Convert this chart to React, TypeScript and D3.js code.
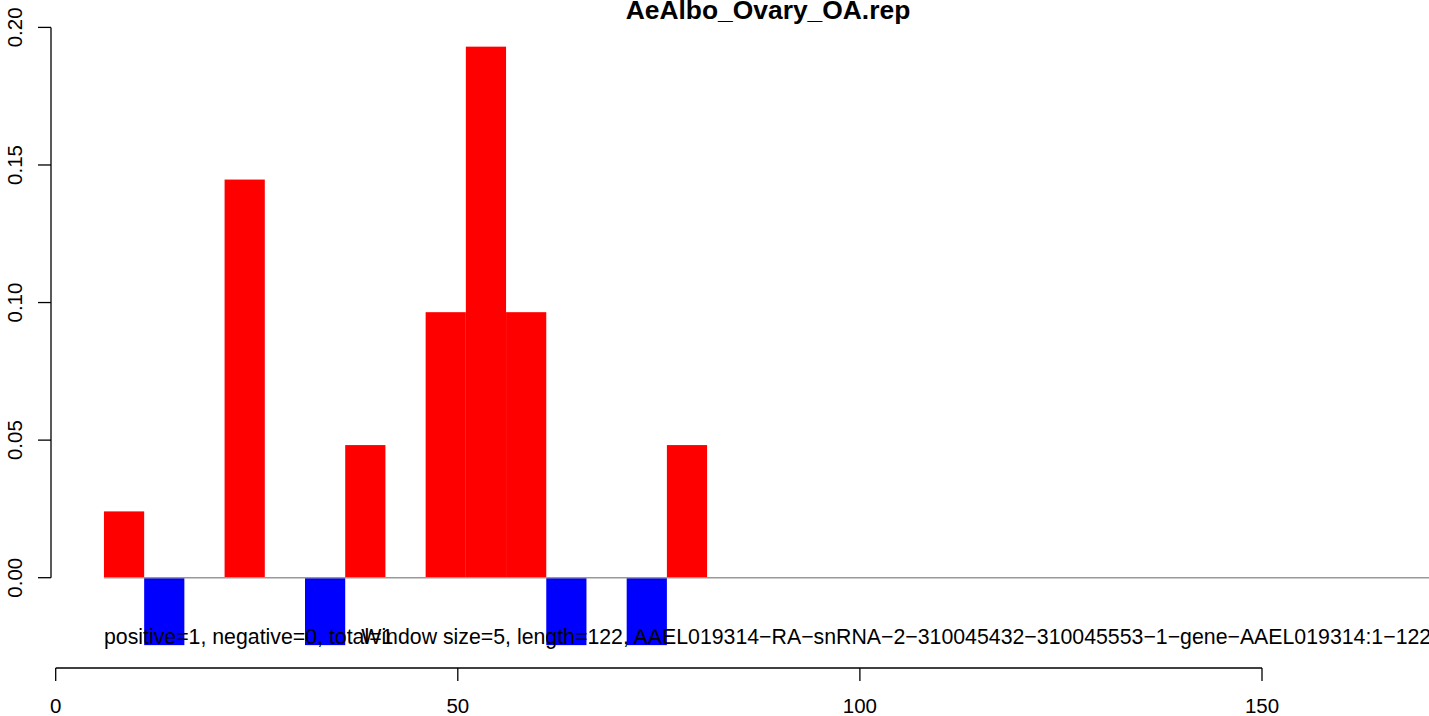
import React from "react";
import * as d3 from "d3";

const title = "AeAlbo_Ovary_OA.rep";
const windowSize = 5;
const redStarts = [6, 21, 36, 46, 51, 56, 76];
const redValues = [0.0241, 0.1447, 0.0482, 0.0965, 0.193, 0.0965, 0.0482];
const blueStarts = [11, 31, 61, 71];
const blueValues = [-0.0245, -0.0245, -0.0245, -0.0245];
const xTicks = [0, 50, 100, 150];
const yTicks = [0, 0.05, 0.1, 0.15, 0.2];
const yTickLabels = ["0.00", "0.05", "0.10", "0.15", "0.20"];
const note1 = "positive=1, negative=0, total=1";
const note2 =
  "Window size=5, length=122, AAEL019314\u2212RA\u2212snRNA\u22122\u2212310045432\u2212310045553\u22121\u2212gene\u2212AAEL019314:1\u2212122";

const W = 1429;
const H = 716;
const FONT = "'Liberation Sans', Arial, Helvetica, sans-serif";

export default function App() {
  const x = d3.scaleLinear().domain([0, 150]).range([55.7, 1262]);
  const y = d3.scaleLinear().domain([0, 0.2]).range([577.7, 27.4]);
  const axisY = 668;
  const yAxisX = 51;

  const bar = (s: number, v: number, color: string, key: string) => {
    const x0 = x(s);
    const x1 = x(s + windowSize);
    const y0 = y(Math.max(0, v));
    const y1 = y(Math.min(0, v));
    return <rect key={key} x={x0} y={y0} width={x1 - x0} height={y1 - y0} fill={color} />;
  };

  return (
    <svg
      width={W}
      height={H}
      style={{ position: "absolute", left: 0, top: 0, background: "#fff" }}
      fontFamily={FONT}
    >
      <rect x={0} y={0} width={W} height={H} fill="#fff" />
      {redStarts.map((s, i) => bar(s, redValues[i], "#ff0000", "r" + i))}
      {blueStarts.map((s, i) => bar(s, blueValues[i], "#0000ff", "b" + i))}
      <line x1={x(redStarts[0])} x2={W} y1={y(0)} y2={y(0)} stroke="#999" strokeWidth={1.5} />

      {/* y axis */}
      <line x1={yAxisX} x2={yAxisX} y1={y(0)} y2={y(0.2)} stroke="#000" strokeWidth={1.3} />
      {yTicks.map((t, i) => (
        <g key={"yt" + i}>
          <line x1={yAxisX - 13} x2={yAxisX} y1={y(t)} y2={y(t)} stroke="#000" strokeWidth={1.3} />
          <text
            transform={`translate(22,${y(t)}) rotate(-90)`}
            textAnchor="middle"
            fontSize={20.5}
            fill="#000"
          >
            {yTickLabels[i]}
          </text>
        </g>
      ))}

      {/* x axis */}
      <line x1={x(0)} x2={x(150)} y1={axisY} y2={axisY} stroke="#000" strokeWidth={1.3} />
      {xTicks.map((t, i) => (
        <g key={"xt" + i}>
          <line x1={x(t)} x2={x(t)} y1={axisY} y2={axisY + 13} stroke="#000" strokeWidth={1.3} />
          <text x={x(t)} y={713} textAnchor="middle" fontSize={20.5} fill="#000">
            {String(t)}
          </text>
        </g>
      ))}

      <text x={x(redStarts[0])} y={644} fontSize={21.3} fill="#000">
        {note1}
      </text>
      <text x={x(38)} y={644} fontSize={21.3} fill="#000">
        {note2}
      </text>

      <text x={768} y={18.5} textAnchor="middle" fontSize={26.4} fontWeight="bold" fill="#000">
        {title}
      </text>
    </svg>
  );
}
